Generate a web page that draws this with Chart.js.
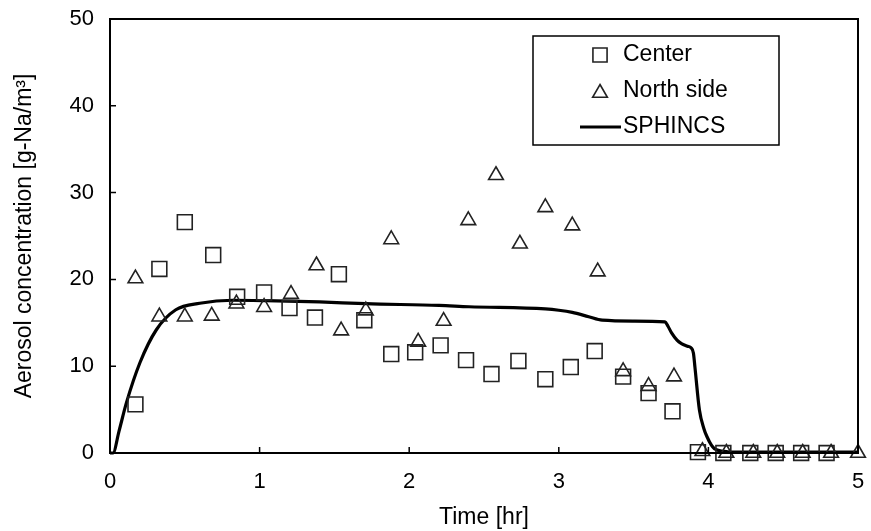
<!DOCTYPE html>
<html>
<head>
<meta charset="utf-8">
<script src="https://cdn.jsdelivr.net/npm/chart.js@4.4.1/dist/chart.umd.min.js"></script>
<style>
  html, body { margin: 0; padding: 0; background: #fff; }
  #wrap { width: 871px; height: 531px; position: relative; }
</style>
</head>
<body>
<div id="wrap"><canvas id="chart"></canvas></div>
<script>
const centerTime = [0.17, 0.33, 0.5, 0.69, 0.85, 1.03, 1.2, 1.37, 1.53, 1.7, 1.88, 2.04, 2.21, 2.38,
  2.55, 2.73, 2.91, 3.08, 3.24, 3.43, 3.6, 3.76, 3.93, 4.1, 4.28, 4.45, 4.62, 4.79];
const centerConc = [5.6, 21.2, 26.6, 22.8, 18.0, 18.5, 16.7, 15.6, 20.6, 15.3, 11.4, 11.6, 12.4, 10.7,
  9.1, 10.6, 8.5, 9.9, 11.75, 8.8, 6.9, 4.8, 0.1, 0, 0, 0, 0, 0];

const northTime = [0.17, 0.33, 0.5, 0.68, 0.845, 1.03, 1.21, 1.38, 1.545, 1.71, 1.88, 2.06, 2.23, 2.395,
  2.58, 2.74, 2.91, 3.09, 3.26, 3.43, 3.6, 3.77, 3.96, 4.12, 4.3, 4.46, 4.63, 4.82, 5.0];
const northConc = [20.1, 15.7, 15.7, 15.8, 17.2, 16.8, 18.3, 21.6, 14.1, 16.4, 24.6, 12.8, 15.2, 26.8,
  32.0, 24.1, 28.3, 26.2, 20.9, 9.4, 7.7, 8.8, 0.2, 0, 0, 0, 0, 0, 0];

// SPHINCS calculation
const simTime = [0, 0.02, 0.06, 0.11, 0.2, 0.31, 0.44, 0.6, 0.82, 1.04, 1.4, 1.71, 2.2, 2.4, 2.91, 3.0,
  3.09, 3.2, 3.29, 3.5, 3.71, 3.73, 3.755, 3.79, 3.82, 3.86, 3.885, 3.9, 3.91, 3.94, 3.97, 3.99,
  4.02, 4.04, 4.1, 4.2, 5.0];
const simConc = [0, 0, 2.5, 5.8, 10.4, 14.2, 16.5, 17.25, 17.6, 17.55, 17.4, 17.2, 17.0, 16.85, 16.6, 16.45,
  16.2, 15.7, 15.3, 15.2, 15.1, 14.6, 13.8, 13.0, 12.6, 12.3, 12.1, 11.5, 9.9, 4.95, 2.8, 1.9,
  0.9, 0.5, 0.2, 0.1, 0.1];

const xTicks = [0, 1, 2, 3, 4, 5];
const yTicks = [0, 10, 20, 30, 40, 50];

const toPts = (xs, ys) => xs.map((x, i) => ({ x: x, y: ys[i] }));
const FONT = "'Liberation Sans', Arial, sans-serif";
const INK = "#222";

// frame + inward tick marks
const framePlugin = {
  id: "frame",
  afterDatasetsDraw(chart) {
    const { ctx, chartArea: a, scales } = chart;
    ctx.save();
    ctx.strokeStyle = "#000";
    ctx.lineWidth = 1.5;
    ctx.beginPath();
    xTicks.forEach(v => {
      const px = scales.x.getPixelForValue(v);
      ctx.moveTo(px, a.bottom);
      ctx.lineTo(px, a.bottom - 6);
    });
    yTicks.forEach(v => {
      const py = scales.y.getPixelForValue(v);
      ctx.moveTo(a.left, py);
      ctx.lineTo(a.left + 6, py);
    });
    ctx.stroke();
    ctx.lineWidth = 2;
    ctx.strokeRect(a.left, a.top, a.right - a.left, a.bottom - a.top);
    ctx.restore();
  }
};

// boxed legend in the upper right, like the original
const legendPlugin = {
  id: "boxLegend",
  afterDraw(chart) {
    const { ctx } = chart;
    const box = { l: 533, t: 36, r: 779, b: 145 };
    ctx.save();
    ctx.fillStyle = "#fff";
    ctx.fillRect(box.l, box.t, box.r - box.l, box.b - box.t);
    ctx.strokeStyle = "#000";
    ctx.lineWidth = 1.5;
    ctx.strokeRect(box.l, box.t, box.r - box.l, box.b - box.t);
    ctx.font = "23px " + FONT;
    ctx.textBaseline = "middle";
    const rows = [55, 91, 127];
    chart.data.datasets.forEach((ds, i) => {
      const y = rows[i];
      if (ds.showLine) {
        ctx.strokeStyle = ds.borderColor;
        ctx.lineWidth = ds.borderWidth;
        ctx.beginPath();
        ctx.moveTo(580, y);
        ctx.lineTo(621, y);
        ctx.stroke();
      } else {
        ctx.strokeStyle = ds.pointBorderColor;
        ctx.fillStyle = "rgba(0,0,0,0)";
        ctx.lineWidth = ds.pointBorderWidth;
        Chart.helpers.drawPoint(ctx, {
          pointStyle: ds.pointStyle,
          radius: ds.pointStyle === "rect" ? 10 : 8.5,
          borderWidth: ds.pointBorderWidth,
          rotation: 0
        }, 600, y + (ds.pointStyle === "triangle" ? 2 : 0));
      }
      ctx.fillStyle = "#000";
      ctx.fillText(ds.label, 623, y);
    });
    ctx.restore();
  }
};

new Chart(document.getElementById("chart"), {
  type: "scatter",
  data: {
    datasets: [
      {
        label: "Center",
        data: toPts(centerTime, centerConc),
        pointStyle: "rect",
        pointRadius: 10.5,
        pointBorderWidth: 1.6,
        pointBorderColor: INK,
        pointBackgroundColor: "rgba(0,0,0,0)",
        showLine: false,
        clip: false
      },
      {
        label: "North side",
        data: toPts(northTime, northConc),
        pointStyle: "triangle",
        pointRadius: 8.5,
        pointBorderWidth: 1.6,
        pointBorderColor: INK,
        pointBackgroundColor: "rgba(0,0,0,0)",
        showLine: false,
        clip: false
      },
      {
        label: "SPHINCS",
        data: toPts(simTime, simConc),
        showLine: true,
        borderColor: "#000",
        borderWidth: 3.2,
        pointRadius: 0,
        tension: 0.3,
        cubicInterpolationMode: "monotone",
        clip: false
      }
    ]
  },
  options: {
    responsive: true,
    maintainAspectRatio: false,
    animation: false,
    layout: { padding: { top: 19, right: 13, left: 0, bottom: 0 } },
    plugins: {
      legend: { display: false },
      tooltip: { enabled: false }
    },
    scales: {
      x: {
        type: "linear",
        min: 0,
        max: 5,
        afterFit: s => { s.height = 78; s.paddingLeft = 0; s.paddingRight = 0; },
        afterBuildTicks: s => { s.ticks = xTicks.map(v => ({ value: v })); },
        grid: { display: false, drawTicks: false },
        border: { display: false },
        ticks: { color: "#000", font: { family: FONT, size: 22 }, padding: 16 },
        title: {
          display: true,
          text: "Time [hr]",
          color: "#000",
          font: { family: FONT, size: 23 },
          padding: { top: 0, bottom: 0 }
        }
      },
      y: {
        type: "linear",
        min: 0,
        max: 50,
        afterFit: s => { s.width = 110; s.paddingTop = 0; s.paddingBottom = 0; },
        afterBuildTicks: s => { s.ticks = yTicks.map(v => ({ value: v })); },
        grid: { display: false, drawTicks: false },
        border: { display: false },
        ticks: { color: "#000", font: { family: FONT, size: 22 }, padding: 16 },
        title: {
          display: true,
          text: "Aerosol concentration [g-Na/m\u00B3]",
          color: "#000",
          font: { family: FONT, size: 23 },
          padding: { top: 11, bottom: 0 }
        }
      }
    }
  },
  plugins: [framePlugin, legendPlugin]
});
</script>
</body>
</html>
